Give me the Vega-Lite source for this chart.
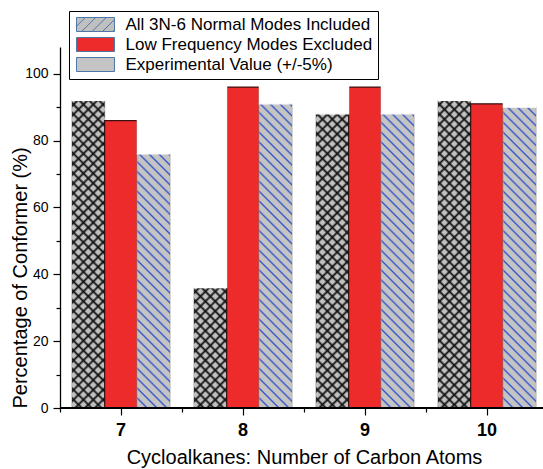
{
  "$schema": "https://vega.github.io/schema/vega-lite/v6.json",
  "width": 483,
  "height": 361,
  "autosize": "none",
  "padding": {"left": 60, "top": 47, "right": 0, "bottom": 61},
  "background": "white",
  "config": {
    "font": "Liberation Sans",
    "view": {"stroke": null},
    "axis": {"grid": false, "domainColor": "black", "tickColor": "black", "labelColor": "black", "titleColor": "black", "labelFont": "Liberation Sans", "titleFont": "Liberation Sans", "titleFontWeight": "normal"},
    "legend": {"labelFont": "Liberation Sans", "labelColor": "black"}
  },
  "data": {
    "values": [
      {"n": "7", "series": "All 3N-6 Normal Modes Included", "pct": 92},
      {"n": "8", "series": "All 3N-6 Normal Modes Included", "pct": 36},
      {"n": "9", "series": "All 3N-6 Normal Modes Included", "pct": 88},
      {"n": "10", "series": "All 3N-6 Normal Modes Included", "pct": 92},
      {"n": "7", "series": "Low Frequency Modes Excluded", "pct": 86},
      {"n": "8", "series": "Low Frequency Modes Excluded", "pct": 96},
      {"n": "9", "series": "Low Frequency Modes Excluded", "pct": 96},
      {"n": "10", "series": "Low Frequency Modes Excluded", "pct": 91},
      {"n": "7", "series": "Experimental Value (+/-5%)", "pct": 76},
      {"n": "8", "series": "Experimental Value (+/-5%)", "pct": 91},
      {"n": "9", "series": "Experimental Value (+/-5%)", "pct": 88},
      {"n": "10", "series": "Experimental Value (+/-5%)", "pct": 90}
    ]
  },
  "layer": [
    {
      "mark": {"type": "point", "opacity": 0, "size": 196},
      "encoding": {
        "x": {"field": "n", "type": "ordinal", "axis": null},
        "xOffset": {"field": "series", "type": "nominal"},
        "y": {"field": "pct", "type": "quantitative", "axis": null},
        "shape": {"field": "series", "type": "nominal",
                  "scale": {"domain": ["All 3N-6 Normal Modes Included", "Low Frequency Modes Excluded", "Experimental Value (+/-5%)"],
                            "range": ["M-2.714,-1H2.714V1H-2.714Z M-2.714,0.257L-1.457,-1 M-1.971,1L0.029,-1 M-0.486,1L1.514,-1 M1,1L2.714,-0.714 M2.486,1L2.714,0.772",
                                      "M-2.714,-1H2.714V1H-2.714Z", "M-2.714,-1H2.714V1H-2.714Z"]},
                  "legend": {
                    "title": null, "orient": "none", "legendX": 9, "legendY": -36,
                    "symbolSize": 196, "symbolOffset": 13, "labelOffset": 21.5, "symbolOpacity": 1, "symbolStrokeWidth": 1,
                    "labelFontSize": 17, "labelLimit": 0, "rowPadding": 1, "padding": 5,
                    "strokeColor": "black", "fillColor": "white",
                    "encode": {"symbols": {"update": {
                      "fill": [
                        {"test": "datum.value === 'All 3N-6 Normal Modes Included'", "value": {"gradient": "linear", "x1": 0, "y1": 1, "x2": 1.205, "y2": 0.556, "stops": [
                          {"offset": 0, "color": "#111"}, {"offset": 0.06, "color": "#c0c0c0"}, {"offset": 0.14, "color": "#c0c0c0"},
                          {"offset": 0.2, "color": "#111"}, {"offset": 0.26, "color": "#c0c0c0"}, {"offset": 0.34, "color": "#c0c0c0"},
                          {"offset": 0.4, "color": "#111"}, {"offset": 0.46, "color": "#c0c0c0"}, {"offset": 0.54, "color": "#c0c0c0"},
                          {"offset": 0.6, "color": "#111"}, {"offset": 0.66, "color": "#c0c0c0"}, {"offset": 0.74, "color": "#c0c0c0"},
                          {"offset": 0.8, "color": "#111"}, {"offset": 0.86, "color": "#c0c0c0"}, {"offset": 0.94, "color": "#c0c0c0"},
                          {"offset": 1, "color": "#111"}]}},
                        {"test": "datum.value === 'Experimental Value (+/-5%)'", "value": {"gradient": "linear", "x1": 0, "y1": 1, "x2": 1.205, "y2": 0.556, "stops": [
                          {"offset": 0, "color": "#3755c8"}, {"offset": 0.06, "color": "#c4c4c4"}, {"offset": 0.14, "color": "#c4c4c4"},
                          {"offset": 0.2, "color": "#3755c8"}, {"offset": 0.26, "color": "#c4c4c4"}, {"offset": 0.34, "color": "#c4c4c4"},
                          {"offset": 0.4, "color": "#3755c8"}, {"offset": 0.46, "color": "#c4c4c4"}, {"offset": 0.54, "color": "#c4c4c4"},
                          {"offset": 0.6, "color": "#3755c8"}, {"offset": 0.66, "color": "#c4c4c4"}, {"offset": 0.74, "color": "#c4c4c4"},
                          {"offset": 0.8, "color": "#3755c8"}, {"offset": 0.86, "color": "#c4c4c4"}, {"offset": 0.94, "color": "#c4c4c4"},
                          {"offset": 1, "color": "#3755c8"}]}},
                        {"value": "#ee2b2b"}
                      ],
                      "stroke": [
                        {"test": "datum.value === 'Low Frequency Modes Excluded'", "value": "#3d1010"},
                        {"test": "datum.value === 'All 3N-6 Normal Modes Included'", "value": "#111"},
                        {"value": "transparent"}
                      ],
                      "strokeWidth": [
                        {"test": "datum.value === 'All 3N-6 Normal Modes Included'", "value": 1.2},
                        {"value": 1}
                      ],
                      "opacity": {"value": 1}
                    }}}
                  }}
      }
    },
    {
      "mark": {"type": "bar", "strokeWidth": 1.2},
      "encoding": {
        "x": {"field": "n", "type": "ordinal", "scale": {"domain": ["7", "8", "9", "10"], "range": [0, 488], "paddingInner": 0, "paddingOuter": 0},
              "axis": {"orient": "bottom", "bandPosition": 0.5, "domain": false, "tickSize": 7, "tickWidth": 1.2, "labelFontSize": 18, "labelFontWeight": "bold", "labelAngle": 0, "labelPadding": 6, "title": "Cycloalkanes: Number of Carbon Atoms", "titleFontSize": 20, "titlePadding": 8}},
        "xOffset": {"field": "series", "type": "nominal", "scale": {"domain": ["All 3N-6 Normal Modes Included", "Low Frequency Modes Excluded", "Experimental Value (+/-5%)"], "paddingInner": 0, "paddingOuter": 0.367}},
        "y": {"field": "pct", "type": "quantitative", "scale": {"domain": [0, 108], "nice": false},
              "axis": {"orient": "left", "values": [0, 20, 40, 60, 80, 100], "domainWidth": 1.3, "tickSize": 7, "tickWidth": 1.2, "labelFontSize": 14, "labelPadding": 5, "title": "Percentage of Conformer  (%)", "titleFontSize": 20, "titleAnchor": "start", "titlePadding": -6}},
        "fill": {"field": "series", "type": "nominal",
                 "scale": {"domain": ["All 3N-6 Normal Modes Included", "Low Frequency Modes Excluded", "Experimental Value (+/-5%)"], "range": ["#c0c0c0", "#ee2b2b", "#c4c4c4"]},
                 "legend": null},
        "stroke": {"condition": {"test": "datum.series === 'Low Frequency Modes Excluded'", "value": "#3d1010"}, "value": "#b8b8b8"}
      }
    },
    {
      "transform": [{"filter": "datum.series === 'All 3N-6 Normal Modes Included'"}],
      "mark": {"type": "bar", "stroke": null, "fill": {"gradient": "linear", "x1": 0, "y1": 1, "x2": 0.0979, "y2": -0.0816, "stops": [
        {"offset": 0, "color": "#111"}, {"offset": 0.0065, "color": "rgba(17,17,17,0)"}, {"offset": 0.0185, "color": "rgba(17,17,17,0)"},
        {"offset": 0.025, "color": "#111"}, {"offset": 0.0315, "color": "rgba(17,17,17,0)"}, {"offset": 0.0435, "color": "rgba(17,17,17,0)"},
        {"offset": 0.05, "color": "#111"}, {"offset": 0.0565, "color": "rgba(17,17,17,0)"}, {"offset": 0.0685, "color": "rgba(17,17,17,0)"},
        {"offset": 0.075, "color": "#111"}, {"offset": 0.0815, "color": "rgba(17,17,17,0)"}, {"offset": 0.0935, "color": "rgba(17,17,17,0)"},
        {"offset": 0.1, "color": "#111"}, {"offset": 0.1065, "color": "rgba(17,17,17,0)"}, {"offset": 0.1185, "color": "rgba(17,17,17,0)"},
        {"offset": 0.125, "color": "#111"}, {"offset": 0.1315, "color": "rgba(17,17,17,0)"}, {"offset": 0.1435, "color": "rgba(17,17,17,0)"},
        {"offset": 0.15, "color": "#111"}, {"offset": 0.1565, "color": "rgba(17,17,17,0)"}, {"offset": 0.1685, "color": "rgba(17,17,17,0)"},
        {"offset": 0.175, "color": "#111"}, {"offset": 0.1815, "color": "rgba(17,17,17,0)"}, {"offset": 0.1935, "color": "rgba(17,17,17,0)"},
        {"offset": 0.2, "color": "#111"}, {"offset": 0.2065, "color": "rgba(17,17,17,0)"}, {"offset": 0.2185, "color": "rgba(17,17,17,0)"},
        {"offset": 0.225, "color": "#111"}, {"offset": 0.2315, "color": "rgba(17,17,17,0)"}, {"offset": 0.2435, "color": "rgba(17,17,17,0)"},
        {"offset": 0.25, "color": "#111"}, {"offset": 0.2565, "color": "rgba(17,17,17,0)"}, {"offset": 0.2685, "color": "rgba(17,17,17,0)"},
        {"offset": 0.275, "color": "#111"}, {"offset": 0.2815, "color": "rgba(17,17,17,0)"}, {"offset": 0.2935, "color": "rgba(17,17,17,0)"},
        {"offset": 0.3, "color": "#111"}, {"offset": 0.3065, "color": "rgba(17,17,17,0)"}, {"offset": 0.3185, "color": "rgba(17,17,17,0)"},
        {"offset": 0.325, "color": "#111"}, {"offset": 0.3315, "color": "rgba(17,17,17,0)"}, {"offset": 0.3435, "color": "rgba(17,17,17,0)"},
        {"offset": 0.35, "color": "#111"}, {"offset": 0.3565, "color": "rgba(17,17,17,0)"}, {"offset": 0.3685, "color": "rgba(17,17,17,0)"},
        {"offset": 0.375, "color": "#111"}, {"offset": 0.3815, "color": "rgba(17,17,17,0)"}, {"offset": 0.3935, "color": "rgba(17,17,17,0)"},
        {"offset": 0.4, "color": "#111"}, {"offset": 0.4065, "color": "rgba(17,17,17,0)"}, {"offset": 0.4185, "color": "rgba(17,17,17,0)"},
        {"offset": 0.425, "color": "#111"}, {"offset": 0.4315, "color": "rgba(17,17,17,0)"}, {"offset": 0.4435, "color": "rgba(17,17,17,0)"},
        {"offset": 0.45, "color": "#111"}, {"offset": 0.4565, "color": "rgba(17,17,17,0)"}, {"offset": 0.4685, "color": "rgba(17,17,17,0)"},
        {"offset": 0.475, "color": "#111"}, {"offset": 0.4815, "color": "rgba(17,17,17,0)"}, {"offset": 0.4935, "color": "rgba(17,17,17,0)"},
        {"offset": 0.5, "color": "#111"}, {"offset": 0.5065, "color": "rgba(17,17,17,0)"}, {"offset": 0.5185, "color": "rgba(17,17,17,0)"},
        {"offset": 0.525, "color": "#111"}, {"offset": 0.5315, "color": "rgba(17,17,17,0)"}, {"offset": 0.5435, "color": "rgba(17,17,17,0)"},
        {"offset": 0.55, "color": "#111"}, {"offset": 0.5565, "color": "rgba(17,17,17,0)"}, {"offset": 0.5685, "color": "rgba(17,17,17,0)"},
        {"offset": 0.575, "color": "#111"}, {"offset": 0.5815, "color": "rgba(17,17,17,0)"}, {"offset": 0.5935, "color": "rgba(17,17,17,0)"},
        {"offset": 0.6, "color": "#111"}, {"offset": 0.6065, "color": "rgba(17,17,17,0)"}, {"offset": 0.6185, "color": "rgba(17,17,17,0)"},
        {"offset": 0.625, "color": "#111"}, {"offset": 0.6315, "color": "rgba(17,17,17,0)"}, {"offset": 0.6435, "color": "rgba(17,17,17,0)"},
        {"offset": 0.65, "color": "#111"}, {"offset": 0.6565, "color": "rgba(17,17,17,0)"}, {"offset": 0.6685, "color": "rgba(17,17,17,0)"},
        {"offset": 0.675, "color": "#111"}, {"offset": 0.6815, "color": "rgba(17,17,17,0)"}, {"offset": 0.6935, "color": "rgba(17,17,17,0)"},
        {"offset": 0.7, "color": "#111"}, {"offset": 0.7065, "color": "rgba(17,17,17,0)"}, {"offset": 0.7185, "color": "rgba(17,17,17,0)"},
        {"offset": 0.725, "color": "#111"}, {"offset": 0.7315, "color": "rgba(17,17,17,0)"}, {"offset": 0.7435, "color": "rgba(17,17,17,0)"},
        {"offset": 0.75, "color": "#111"}, {"offset": 0.7565, "color": "rgba(17,17,17,0)"}, {"offset": 0.7685, "color": "rgba(17,17,17,0)"},
        {"offset": 0.775, "color": "#111"}, {"offset": 0.7815, "color": "rgba(17,17,17,0)"}, {"offset": 0.7935, "color": "rgba(17,17,17,0)"},
        {"offset": 0.8, "color": "#111"}, {"offset": 0.8065, "color": "rgba(17,17,17,0)"}, {"offset": 0.8185, "color": "rgba(17,17,17,0)"},
        {"offset": 0.825, "color": "#111"}, {"offset": 0.8315, "color": "rgba(17,17,17,0)"}, {"offset": 0.8435, "color": "rgba(17,17,17,0)"},
        {"offset": 0.85, "color": "#111"}, {"offset": 0.8565, "color": "rgba(17,17,17,0)"}, {"offset": 0.8685, "color": "rgba(17,17,17,0)"},
        {"offset": 0.875, "color": "#111"}, {"offset": 0.8815, "color": "rgba(17,17,17,0)"}, {"offset": 0.8935, "color": "rgba(17,17,17,0)"},
        {"offset": 0.9, "color": "#111"}, {"offset": 0.9065, "color": "rgba(17,17,17,0)"}, {"offset": 0.9185, "color": "rgba(17,17,17,0)"},
        {"offset": 0.925, "color": "#111"}, {"offset": 0.9315, "color": "rgba(17,17,17,0)"}, {"offset": 0.9435, "color": "rgba(17,17,17,0)"},
        {"offset": 0.95, "color": "#111"}, {"offset": 0.9565, "color": "rgba(17,17,17,0)"}, {"offset": 0.9685, "color": "rgba(17,17,17,0)"},
        {"offset": 0.975, "color": "#111"}, {"offset": 0.9815, "color": "rgba(17,17,17,0)"}, {"offset": 0.9935, "color": "rgba(17,17,17,0)"},
        {"offset": 1, "color": "#111"}]}},
      "encoding": {
        "x": {"field": "n", "type": "ordinal", "axis": null},
        "xOffset": {"field": "series", "type": "nominal"},
        "y": {"datum": 108, "type": "quantitative", "axis": null},
        "y2": {"datum": 0}
      }
    },
    {
      "transform": [{"filter": "datum.series === 'All 3N-6 Normal Modes Included'"}],
      "mark": {"type": "bar", "stroke": null, "fill": {"gradient": "linear", "x1": 0, "y1": 0, "x2": 0.0979, "y2": 1.0816, "stops": [
        {"offset": 0, "color": "#111"}, {"offset": 0.0065, "color": "rgba(17,17,17,0)"}, {"offset": 0.0185, "color": "rgba(17,17,17,0)"},
        {"offset": 0.025, "color": "#111"}, {"offset": 0.0315, "color": "rgba(17,17,17,0)"}, {"offset": 0.0435, "color": "rgba(17,17,17,0)"},
        {"offset": 0.05, "color": "#111"}, {"offset": 0.0565, "color": "rgba(17,17,17,0)"}, {"offset": 0.0685, "color": "rgba(17,17,17,0)"},
        {"offset": 0.075, "color": "#111"}, {"offset": 0.0815, "color": "rgba(17,17,17,0)"}, {"offset": 0.0935, "color": "rgba(17,17,17,0)"},
        {"offset": 0.1, "color": "#111"}, {"offset": 0.1065, "color": "rgba(17,17,17,0)"}, {"offset": 0.1185, "color": "rgba(17,17,17,0)"},
        {"offset": 0.125, "color": "#111"}, {"offset": 0.1315, "color": "rgba(17,17,17,0)"}, {"offset": 0.1435, "color": "rgba(17,17,17,0)"},
        {"offset": 0.15, "color": "#111"}, {"offset": 0.1565, "color": "rgba(17,17,17,0)"}, {"offset": 0.1685, "color": "rgba(17,17,17,0)"},
        {"offset": 0.175, "color": "#111"}, {"offset": 0.1815, "color": "rgba(17,17,17,0)"}, {"offset": 0.1935, "color": "rgba(17,17,17,0)"},
        {"offset": 0.2, "color": "#111"}, {"offset": 0.2065, "color": "rgba(17,17,17,0)"}, {"offset": 0.2185, "color": "rgba(17,17,17,0)"},
        {"offset": 0.225, "color": "#111"}, {"offset": 0.2315, "color": "rgba(17,17,17,0)"}, {"offset": 0.2435, "color": "rgba(17,17,17,0)"},
        {"offset": 0.25, "color": "#111"}, {"offset": 0.2565, "color": "rgba(17,17,17,0)"}, {"offset": 0.2685, "color": "rgba(17,17,17,0)"},
        {"offset": 0.275, "color": "#111"}, {"offset": 0.2815, "color": "rgba(17,17,17,0)"}, {"offset": 0.2935, "color": "rgba(17,17,17,0)"},
        {"offset": 0.3, "color": "#111"}, {"offset": 0.3065, "color": "rgba(17,17,17,0)"}, {"offset": 0.3185, "color": "rgba(17,17,17,0)"},
        {"offset": 0.325, "color": "#111"}, {"offset": 0.3315, "color": "rgba(17,17,17,0)"}, {"offset": 0.3435, "color": "rgba(17,17,17,0)"},
        {"offset": 0.35, "color": "#111"}, {"offset": 0.3565, "color": "rgba(17,17,17,0)"}, {"offset": 0.3685, "color": "rgba(17,17,17,0)"},
        {"offset": 0.375, "color": "#111"}, {"offset": 0.3815, "color": "rgba(17,17,17,0)"}, {"offset": 0.3935, "color": "rgba(17,17,17,0)"},
        {"offset": 0.4, "color": "#111"}, {"offset": 0.4065, "color": "rgba(17,17,17,0)"}, {"offset": 0.4185, "color": "rgba(17,17,17,0)"},
        {"offset": 0.425, "color": "#111"}, {"offset": 0.4315, "color": "rgba(17,17,17,0)"}, {"offset": 0.4435, "color": "rgba(17,17,17,0)"},
        {"offset": 0.45, "color": "#111"}, {"offset": 0.4565, "color": "rgba(17,17,17,0)"}, {"offset": 0.4685, "color": "rgba(17,17,17,0)"},
        {"offset": 0.475, "color": "#111"}, {"offset": 0.4815, "color": "rgba(17,17,17,0)"}, {"offset": 0.4935, "color": "rgba(17,17,17,0)"},
        {"offset": 0.5, "color": "#111"}, {"offset": 0.5065, "color": "rgba(17,17,17,0)"}, {"offset": 0.5185, "color": "rgba(17,17,17,0)"},
        {"offset": 0.525, "color": "#111"}, {"offset": 0.5315, "color": "rgba(17,17,17,0)"}, {"offset": 0.5435, "color": "rgba(17,17,17,0)"},
        {"offset": 0.55, "color": "#111"}, {"offset": 0.5565, "color": "rgba(17,17,17,0)"}, {"offset": 0.5685, "color": "rgba(17,17,17,0)"},
        {"offset": 0.575, "color": "#111"}, {"offset": 0.5815, "color": "rgba(17,17,17,0)"}, {"offset": 0.5935, "color": "rgba(17,17,17,0)"},
        {"offset": 0.6, "color": "#111"}, {"offset": 0.6065, "color": "rgba(17,17,17,0)"}, {"offset": 0.6185, "color": "rgba(17,17,17,0)"},
        {"offset": 0.625, "color": "#111"}, {"offset": 0.6315, "color": "rgba(17,17,17,0)"}, {"offset": 0.6435, "color": "rgba(17,17,17,0)"},
        {"offset": 0.65, "color": "#111"}, {"offset": 0.6565, "color": "rgba(17,17,17,0)"}, {"offset": 0.6685, "color": "rgba(17,17,17,0)"},
        {"offset": 0.675, "color": "#111"}, {"offset": 0.6815, "color": "rgba(17,17,17,0)"}, {"offset": 0.6935, "color": "rgba(17,17,17,0)"},
        {"offset": 0.7, "color": "#111"}, {"offset": 0.7065, "color": "rgba(17,17,17,0)"}, {"offset": 0.7185, "color": "rgba(17,17,17,0)"},
        {"offset": 0.725, "color": "#111"}, {"offset": 0.7315, "color": "rgba(17,17,17,0)"}, {"offset": 0.7435, "color": "rgba(17,17,17,0)"},
        {"offset": 0.75, "color": "#111"}, {"offset": 0.7565, "color": "rgba(17,17,17,0)"}, {"offset": 0.7685, "color": "rgba(17,17,17,0)"},
        {"offset": 0.775, "color": "#111"}, {"offset": 0.7815, "color": "rgba(17,17,17,0)"}, {"offset": 0.7935, "color": "rgba(17,17,17,0)"},
        {"offset": 0.8, "color": "#111"}, {"offset": 0.8065, "color": "rgba(17,17,17,0)"}, {"offset": 0.8185, "color": "rgba(17,17,17,0)"},
        {"offset": 0.825, "color": "#111"}, {"offset": 0.8315, "color": "rgba(17,17,17,0)"}, {"offset": 0.8435, "color": "rgba(17,17,17,0)"},
        {"offset": 0.85, "color": "#111"}, {"offset": 0.8565, "color": "rgba(17,17,17,0)"}, {"offset": 0.8685, "color": "rgba(17,17,17,0)"},
        {"offset": 0.875, "color": "#111"}, {"offset": 0.8815, "color": "rgba(17,17,17,0)"}, {"offset": 0.8935, "color": "rgba(17,17,17,0)"},
        {"offset": 0.9, "color": "#111"}, {"offset": 0.9065, "color": "rgba(17,17,17,0)"}, {"offset": 0.9185, "color": "rgba(17,17,17,0)"},
        {"offset": 0.925, "color": "#111"}, {"offset": 0.9315, "color": "rgba(17,17,17,0)"}, {"offset": 0.9435, "color": "rgba(17,17,17,0)"},
        {"offset": 0.95, "color": "#111"}, {"offset": 0.9565, "color": "rgba(17,17,17,0)"}, {"offset": 0.9685, "color": "rgba(17,17,17,0)"},
        {"offset": 0.975, "color": "#111"}, {"offset": 0.9815, "color": "rgba(17,17,17,0)"}, {"offset": 0.9935, "color": "rgba(17,17,17,0)"},
        {"offset": 1, "color": "#111"}]}},
      "encoding": {
        "x": {"field": "n", "type": "ordinal", "axis": null},
        "xOffset": {"field": "series", "type": "nominal"},
        "y": {"datum": 108, "type": "quantitative", "axis": null},
        "y2": {"datum": 0}
      }
    },
    {
      "transform": [{"filter": "datum.series === 'Experimental Value (+/-5%)'"}],
      "mark": {"type": "bar", "stroke": null, "fill": {"gradient": "linear", "x1": 0, "y1": 1, "x2": 0.0979, "y2": -0.0816, "stops": [
        {"offset": 0, "color": "#3755c8"}, {"offset": 0.005, "color": "rgba(55,85,200,0)"}, {"offset": 0.02, "color": "rgba(55,85,200,0)"},
        {"offset": 0.025, "color": "#3755c8"}, {"offset": 0.03, "color": "rgba(55,85,200,0)"}, {"offset": 0.045, "color": "rgba(55,85,200,0)"},
        {"offset": 0.05, "color": "#3755c8"}, {"offset": 0.055, "color": "rgba(55,85,200,0)"}, {"offset": 0.07, "color": "rgba(55,85,200,0)"},
        {"offset": 0.075, "color": "#3755c8"}, {"offset": 0.08, "color": "rgba(55,85,200,0)"}, {"offset": 0.095, "color": "rgba(55,85,200,0)"},
        {"offset": 0.1, "color": "#3755c8"}, {"offset": 0.105, "color": "rgba(55,85,200,0)"}, {"offset": 0.12, "color": "rgba(55,85,200,0)"},
        {"offset": 0.125, "color": "#3755c8"}, {"offset": 0.13, "color": "rgba(55,85,200,0)"}, {"offset": 0.145, "color": "rgba(55,85,200,0)"},
        {"offset": 0.15, "color": "#3755c8"}, {"offset": 0.155, "color": "rgba(55,85,200,0)"}, {"offset": 0.17, "color": "rgba(55,85,200,0)"},
        {"offset": 0.175, "color": "#3755c8"}, {"offset": 0.18, "color": "rgba(55,85,200,0)"}, {"offset": 0.195, "color": "rgba(55,85,200,0)"},
        {"offset": 0.2, "color": "#3755c8"}, {"offset": 0.205, "color": "rgba(55,85,200,0)"}, {"offset": 0.22, "color": "rgba(55,85,200,0)"},
        {"offset": 0.225, "color": "#3755c8"}, {"offset": 0.23, "color": "rgba(55,85,200,0)"}, {"offset": 0.245, "color": "rgba(55,85,200,0)"},
        {"offset": 0.25, "color": "#3755c8"}, {"offset": 0.255, "color": "rgba(55,85,200,0)"}, {"offset": 0.27, "color": "rgba(55,85,200,0)"},
        {"offset": 0.275, "color": "#3755c8"}, {"offset": 0.28, "color": "rgba(55,85,200,0)"}, {"offset": 0.295, "color": "rgba(55,85,200,0)"},
        {"offset": 0.3, "color": "#3755c8"}, {"offset": 0.305, "color": "rgba(55,85,200,0)"}, {"offset": 0.32, "color": "rgba(55,85,200,0)"},
        {"offset": 0.325, "color": "#3755c8"}, {"offset": 0.33, "color": "rgba(55,85,200,0)"}, {"offset": 0.345, "color": "rgba(55,85,200,0)"},
        {"offset": 0.35, "color": "#3755c8"}, {"offset": 0.355, "color": "rgba(55,85,200,0)"}, {"offset": 0.37, "color": "rgba(55,85,200,0)"},
        {"offset": 0.375, "color": "#3755c8"}, {"offset": 0.38, "color": "rgba(55,85,200,0)"}, {"offset": 0.395, "color": "rgba(55,85,200,0)"},
        {"offset": 0.4, "color": "#3755c8"}, {"offset": 0.405, "color": "rgba(55,85,200,0)"}, {"offset": 0.42, "color": "rgba(55,85,200,0)"},
        {"offset": 0.425, "color": "#3755c8"}, {"offset": 0.43, "color": "rgba(55,85,200,0)"}, {"offset": 0.445, "color": "rgba(55,85,200,0)"},
        {"offset": 0.45, "color": "#3755c8"}, {"offset": 0.455, "color": "rgba(55,85,200,0)"}, {"offset": 0.47, "color": "rgba(55,85,200,0)"},
        {"offset": 0.475, "color": "#3755c8"}, {"offset": 0.48, "color": "rgba(55,85,200,0)"}, {"offset": 0.495, "color": "rgba(55,85,200,0)"},
        {"offset": 0.5, "color": "#3755c8"}, {"offset": 0.505, "color": "rgba(55,85,200,0)"}, {"offset": 0.52, "color": "rgba(55,85,200,0)"},
        {"offset": 0.525, "color": "#3755c8"}, {"offset": 0.53, "color": "rgba(55,85,200,0)"}, {"offset": 0.545, "color": "rgba(55,85,200,0)"},
        {"offset": 0.55, "color": "#3755c8"}, {"offset": 0.555, "color": "rgba(55,85,200,0)"}, {"offset": 0.57, "color": "rgba(55,85,200,0)"},
        {"offset": 0.575, "color": "#3755c8"}, {"offset": 0.58, "color": "rgba(55,85,200,0)"}, {"offset": 0.595, "color": "rgba(55,85,200,0)"},
        {"offset": 0.6, "color": "#3755c8"}, {"offset": 0.605, "color": "rgba(55,85,200,0)"}, {"offset": 0.62, "color": "rgba(55,85,200,0)"},
        {"offset": 0.625, "color": "#3755c8"}, {"offset": 0.63, "color": "rgba(55,85,200,0)"}, {"offset": 0.645, "color": "rgba(55,85,200,0)"},
        {"offset": 0.65, "color": "#3755c8"}, {"offset": 0.655, "color": "rgba(55,85,200,0)"}, {"offset": 0.67, "color": "rgba(55,85,200,0)"},
        {"offset": 0.675, "color": "#3755c8"}, {"offset": 0.68, "color": "rgba(55,85,200,0)"}, {"offset": 0.695, "color": "rgba(55,85,200,0)"},
        {"offset": 0.7, "color": "#3755c8"}, {"offset": 0.705, "color": "rgba(55,85,200,0)"}, {"offset": 0.72, "color": "rgba(55,85,200,0)"},
        {"offset": 0.725, "color": "#3755c8"}, {"offset": 0.73, "color": "rgba(55,85,200,0)"}, {"offset": 0.745, "color": "rgba(55,85,200,0)"},
        {"offset": 0.75, "color": "#3755c8"}, {"offset": 0.755, "color": "rgba(55,85,200,0)"}, {"offset": 0.77, "color": "rgba(55,85,200,0)"},
        {"offset": 0.775, "color": "#3755c8"}, {"offset": 0.78, "color": "rgba(55,85,200,0)"}, {"offset": 0.795, "color": "rgba(55,85,200,0)"},
        {"offset": 0.8, "color": "#3755c8"}, {"offset": 0.805, "color": "rgba(55,85,200,0)"}, {"offset": 0.82, "color": "rgba(55,85,200,0)"},
        {"offset": 0.825, "color": "#3755c8"}, {"offset": 0.83, "color": "rgba(55,85,200,0)"}, {"offset": 0.845, "color": "rgba(55,85,200,0)"},
        {"offset": 0.85, "color": "#3755c8"}, {"offset": 0.855, "color": "rgba(55,85,200,0)"}, {"offset": 0.87, "color": "rgba(55,85,200,0)"},
        {"offset": 0.875, "color": "#3755c8"}, {"offset": 0.88, "color": "rgba(55,85,200,0)"}, {"offset": 0.895, "color": "rgba(55,85,200,0)"},
        {"offset": 0.9, "color": "#3755c8"}, {"offset": 0.905, "color": "rgba(55,85,200,0)"}, {"offset": 0.92, "color": "rgba(55,85,200,0)"},
        {"offset": 0.925, "color": "#3755c8"}, {"offset": 0.93, "color": "rgba(55,85,200,0)"}, {"offset": 0.945, "color": "rgba(55,85,200,0)"},
        {"offset": 0.95, "color": "#3755c8"}, {"offset": 0.955, "color": "rgba(55,85,200,0)"}, {"offset": 0.97, "color": "rgba(55,85,200,0)"},
        {"offset": 0.975, "color": "#3755c8"}, {"offset": 0.98, "color": "rgba(55,85,200,0)"}, {"offset": 0.995, "color": "rgba(55,85,200,0)"},
        {"offset": 1, "color": "#3755c8"}]}},
      "encoding": {
        "x": {"field": "n", "type": "ordinal", "axis": null},
        "xOffset": {"field": "series", "type": "nominal"},
        "y": {"datum": 108, "type": "quantitative", "axis": null},
        "y2": {"datum": 0}
      }
    },
    {
      "transform": [{"filter": "datum.series !== 'Low Frequency Modes Excluded'"}],
      "mark": {"type": "bar", "fill": "white", "stroke": "white", "strokeWidth": 1.2},
      "encoding": {
        "x": {"field": "n", "type": "ordinal",
              "axis": {"orient": "bottom", "bandPosition": 0, "domain": false, "labels": false, "tickSize": 4, "tickWidth": 1.2, "title": null}},
        "xOffset": {"field": "series", "type": "nominal"},
        "y": {"field": "pct", "type": "quantitative",
              "axis": {"orient": "left", "values": [10, 30, 50, 70, 90], "domain": false, "labels": false, "tickSize": 4, "tickWidth": 1.2, "title": null}},
        "y2": {"datum": 108}
      }
    },
    {
      "mark": {"type": "rule", "color": "black", "strokeWidth": 1.3},
      "encoding": {"y": {"datum": 0, "type": "quantitative", "axis": null}}
    }
  ],
  "resolve": {"axis": {"x": "independent", "y": "independent"}}
}
